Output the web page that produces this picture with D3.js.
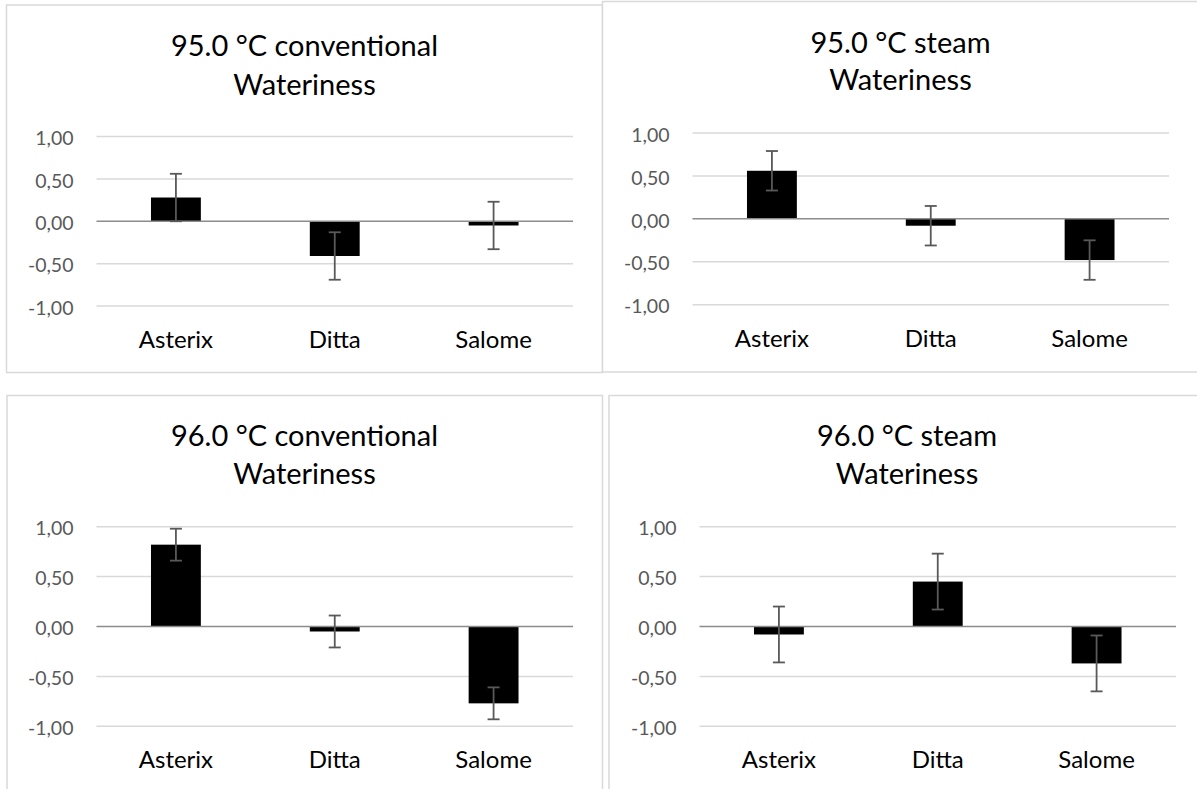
<!DOCTYPE html>
<html>
<head>
<meta charset="utf-8">
<script src="https://cdn.jsdelivr.net/npm/d3@7"></script>
<style>
  html, body { margin: 0; padding: 0; background: #ffffff; }
  svg { display: block; }
  text { font-family: Lato, "Open Sans", sans-serif; }
</style>
</head>
<body>
<svg id="chart" width="1197" height="789"></svg>
<script>
// Cultivars shown on every panel
const categories = ["Asterix", "Ditta", "Salome"];

// Panel headings
const panelTitles = ["95.0 °C conventional", "95.0 °C steam", "96.0 °C conventional", "96.0 °C steam"];
const attribute = "Wateriness";

// Mean wateriness scores and error bar half-widths per panel
const means95Conventional = [0.28, -0.41, -0.05];
const errors95Conventional = [0.28, 0.28, 0.28];
const means95Steam = [0.56, -0.08, -0.48];
const errors95Steam = [0.23, 0.23, 0.23];
const means96Conventional = [0.82, -0.05, -0.77];
const errors96Conventional = [0.16, 0.16, 0.16];
const means96Steam = [-0.08, 0.45, -0.37];
const errors96Steam = [0.28, 0.28, 0.28];

// Value axis ticks
const yTicks = [-1, -0.5, 0, 0.5, 1];

const seriesMeans = [means95Conventional, means95Steam, means96Conventional, means96Steam];
const seriesErrors = [errors95Conventional, errors95Steam, errors96Conventional, errors96Steam];

// Frame and plot-area geometry of the four chart objects
const layouts = [
  { box: [6.5, 5, 602.5, 372.5], plotX: [96.5, 573], plotY: [306, 136.5], titleX: 304.5, titleY: [56, 95], catY: 348 },
  { box: [602.5, 1.5, 1200, 372], plotX: [692.5, 1169], plotY: [304.7, 133], titleX: 900.5, titleY: [53, 90], catY: 347 },
  { box: [7, 395.5, 602.5, 800], plotX: [96.5, 573], plotY: [726.3, 526.7], titleX: 304.5, titleY: [446, 484], catY: 768 },
  { box: [609, 395.5, 1206, 800], plotX: [699.5, 1176], plotY: [726.3, 526.7], titleX: 907, titleY: [446, 484], catY: 768 }
];

const fmt = v => d3.format(".2f")(v).replace(".", ",").replace("−", "-");

const svg = d3.select("#chart");
svg.append("rect").attr("width", 1197).attr("height", 789).attr("fill", "#ffffff");

layouts.forEach((L, p) => {
  const g = svg.append("g");
  const means = seriesMeans[p];
  const errs = seriesErrors[p];

  // chart frame
  g.append("rect")
    .attr("x", L.box[0]).attr("y", L.box[1])
    .attr("width", L.box[2] - L.box[0]).attr("height", L.box[3] - L.box[1])
    .attr("fill", "#ffffff").attr("stroke", "#d9d9d9").attr("stroke-width", 1.5);

  const x = d3.scaleBand().domain(categories).range(L.plotX)
    .paddingInner(0.686).paddingOuter(0.343);
  const y = d3.scaleLinear().domain([-1, 1]).range(L.plotY);

  // gridlines
  g.append("g").selectAll("line").data(yTicks.filter(t => t !== 0)).join("line")
    .attr("x1", L.plotX[0]).attr("x2", L.plotX[1])
    .attr("y1", d => y(d)).attr("y2", d => y(d))
    .attr("stroke", "#d9d9d9").attr("stroke-width", 1.5);

  // value axis labels
  const yAxis = d3.axisLeft(y).tickValues(yTicks).tickFormat(fmt).tickSize(0).tickPadding(23);
  const ya = g.append("g").attr("transform", `translate(${L.plotX[0]},0)`).call(yAxis);
  ya.select(".domain").remove();
  ya.selectAll("text")
    .attr("fill", "#595959").attr("font-size", 19.5)
    .attr("font-family", "Lato, 'Open Sans', sans-serif")
    .attr("dy", "0.42em");

  // bars
  g.append("g").selectAll("rect").data(categories).join("rect")
    .attr("x", d => x(d))
    .attr("width", x.bandwidth())
    .attr("y", (d, i) => y(Math.max(0, means[i])))
    .attr("height", (d, i) => Math.abs(y(means[i]) - y(0)))
    .attr("fill", "#000000");

  // zero axis line
  g.append("line")
    .attr("x1", L.plotX[0]).attr("x2", L.plotX[1])
    .attr("y1", y(0)).attr("y2", y(0))
    .attr("stroke", "#8c8c8c").attr("stroke-width", 1.5);

  // error bars
  const eb = g.append("g").attr("stroke", "#595959").attr("stroke-width", 1.8).attr("fill", "none");
  categories.forEach((c, i) => {
    const cx = x(c) + x.bandwidth() / 2;
    const hi = y(means[i] + errs[i]);
    const lo = y(means[i] - errs[i]);
    eb.append("line").attr("x1", cx).attr("x2", cx).attr("y1", hi).attr("y2", lo);
    eb.append("line").attr("x1", cx - 6).attr("x2", cx + 6).attr("y1", hi).attr("y2", hi);
    eb.append("line").attr("x1", cx - 6).attr("x2", cx + 6).attr("y1", lo).attr("y2", lo);
  });

  // category labels
  g.append("g").selectAll("text").data(categories).join("text")
    .attr("x", d => x(d) + x.bandwidth() / 2)
    .attr("y", L.catY)
    .attr("text-anchor", "middle")
    .attr("font-size", 24)
    .attr("fill", "#000000")
    .text(d => d);

  // two-line chart title
  g.append("text")
    .attr("x", L.titleX).attr("y", L.titleY[0])
    .attr("text-anchor", "middle").attr("font-size", 29).attr("fill", "#000000")
    .text(panelTitles[p]);
  g.append("text")
    .attr("x", L.titleX).attr("y", L.titleY[1])
    .attr("text-anchor", "middle").attr("font-size", 29).attr("fill", "#000000")
    .text(attribute);
});
</script>
</body>
</html>
